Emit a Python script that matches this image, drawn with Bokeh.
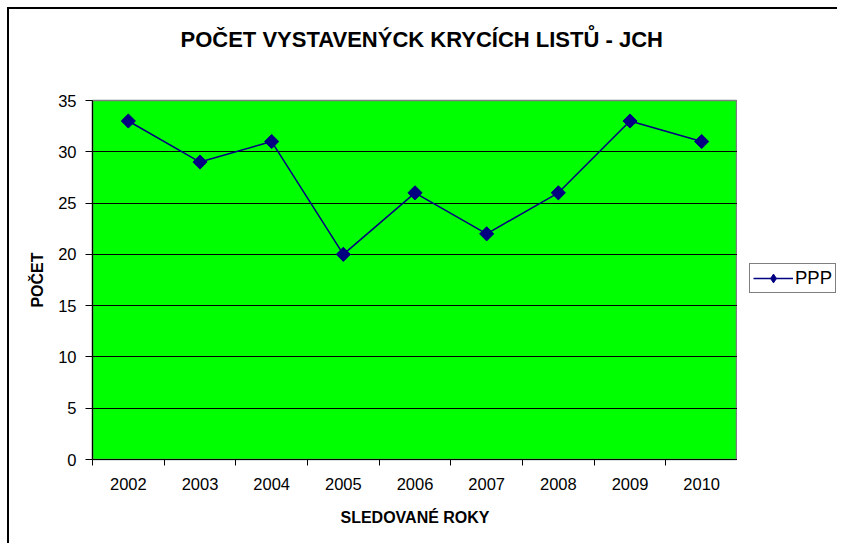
from bokeh.plotting import figure
from bokeh.models import Range1d, FixedTicker, Legend, LegendItem, Title
from bokeh.layouts import row
from bokeh.embed import file_html
from bokeh.resources import INLINE
import math

years = [2002, 2003, 2004, 2005, 2006, 2007, 2008, 2009, 2010]
values = [33, 29, 31, 20, 26, 22, 26, 33, 31]
y_ticks = [0, 5, 10, 15, 20, 25, 30, 35]
series_name = "PPP"
title_text = "POČET VYSTAVENÝCK KRYCÍCH LISTŮ -  JCH"
x_title = "SLEDOVANÉ ROKY"
y_title = "POČET"

FONT = "Liberation Sans"
NAVY = "#000080"

p = figure(width=728, height=534, output_backend="svg", toolbar_location=None,
           x_range=Range1d(years[0] - 0.5, years[-1] + 0.5),
           y_range=Range1d(y_ticks[0], y_ticks[-1]),
           min_border_left=83, min_border_right=0, min_border_top=91, min_border_bottom=84)

p.background_fill_color = "#00FF00"
p.border_fill_color = "white"
p.outline_line_color = "#808080"
p.outline_line_width = 1.5

# real title (outermost), spacer title next to the plot area
p.title = Title(text=title_text, align="left", text_font=FONT, text_font_size="22px",
                text_font_style="bold", text_color="black", standoff=0, offset=88)
p.add_layout(Title(text=" ", text_font_size="1px", standoff=46), "above")

# x axis
xa = p.xaxis[0]
xa.ticker = FixedTicker(ticks=years, minor_ticks=[y - 0.5 for y in years] + [years[-1] + 0.5])
xa.major_tick_line_color = None
xa.major_tick_out = 0
xa.major_tick_in = 0
xa.minor_tick_out = 6
xa.minor_tick_in = 0
xa.minor_tick_line_color = "black"
xa.axis_line_color = "black"
xa.axis_line_width = 1.2
xa.major_label_standoff = 12
xa.major_label_text_font = FONT
xa.major_label_text_font_size = "16.5px"
xa.major_label_text_color = "black"
xa.axis_label = x_title
xa.axis_label_text_font = FONT
xa.axis_label_text_font_size = "16px"
xa.axis_label_text_font_style = "bold"
xa.axis_label_text_color = "black"
xa.axis_label_standoff = 16

# y axis
ya = p.yaxis[0]
ya.ticker = FixedTicker(ticks=y_ticks)
ya.major_tick_out = 7
ya.major_tick_in = 0
ya.major_tick_line_color = "black"
ya.minor_tick_line_color = None
ya.axis_line_color = "black"
ya.axis_line_width = 1.2
ya.major_label_standoff = 9
ya.major_label_text_font = FONT
ya.major_label_text_font_size = "16.5px"
ya.major_label_text_color = "black"
ya.axis_label = y_title
ya.axis_label_text_font = FONT
ya.axis_label_text_font_size = "16px"
ya.axis_label_text_font_style = "bold"
ya.axis_label_text_color = "black"
ya.axis_label_standoff = 9

p.xgrid.grid_line_color = None
p.ygrid.grid_line_color = "black"
p.ygrid.grid_line_width = 1

p.line(years, values, line_color=NAVY, line_width=1.5)
p.scatter(years, values, marker="square", angle=math.pi / 4, size=10,
          fill_color=NAVY, line_color=NAVY)

# legend panel (separate figure to the right of the plot area)
p2 = figure(width=100, height=534, output_backend="svg", toolbar_location=None,
            x_axis_location=None, y_axis_location=None,
            min_border_left=0, min_border_right=0, min_border_top=0, min_border_bottom=0)
p2.outline_line_color = None
p2.background_fill_color = "white"
p2.border_fill_color = "white"
p2.grid.visible = False
ln2 = p2.line(years, values, line_color=NAVY, line_width=1.5, visible=False)
mk2 = p2.scatter(years, values, marker="diamond", size=15, fill_color=NAVY,
                 line_color=NAVY, visible=False)

legend = Legend(items=[LegendItem(label=series_name, renderers=[ln2, mk2])],
                location=(12, 166),
                label_text_font=FONT, label_text_font_size="18.5px",
                label_text_color="black",
                border_line_color="black", border_line_width=1,
                background_fill_color="white", background_fill_alpha=1,
                inactive_fill_alpha=0,
                padding=3, margin=0, glyph_width=40, glyph_height=22,
                label_standoff=2, spacing=0)
p2.add_layout(legend, "center")

layout = row(p, p2, spacing=0)
layout.styles = {"margin-left": "7px", "margin-top": "7px",
                 "border-left": "2px solid black", "border-top": "2px solid black"}

open("out.html", "w").write(file_html(layout, INLINE))
